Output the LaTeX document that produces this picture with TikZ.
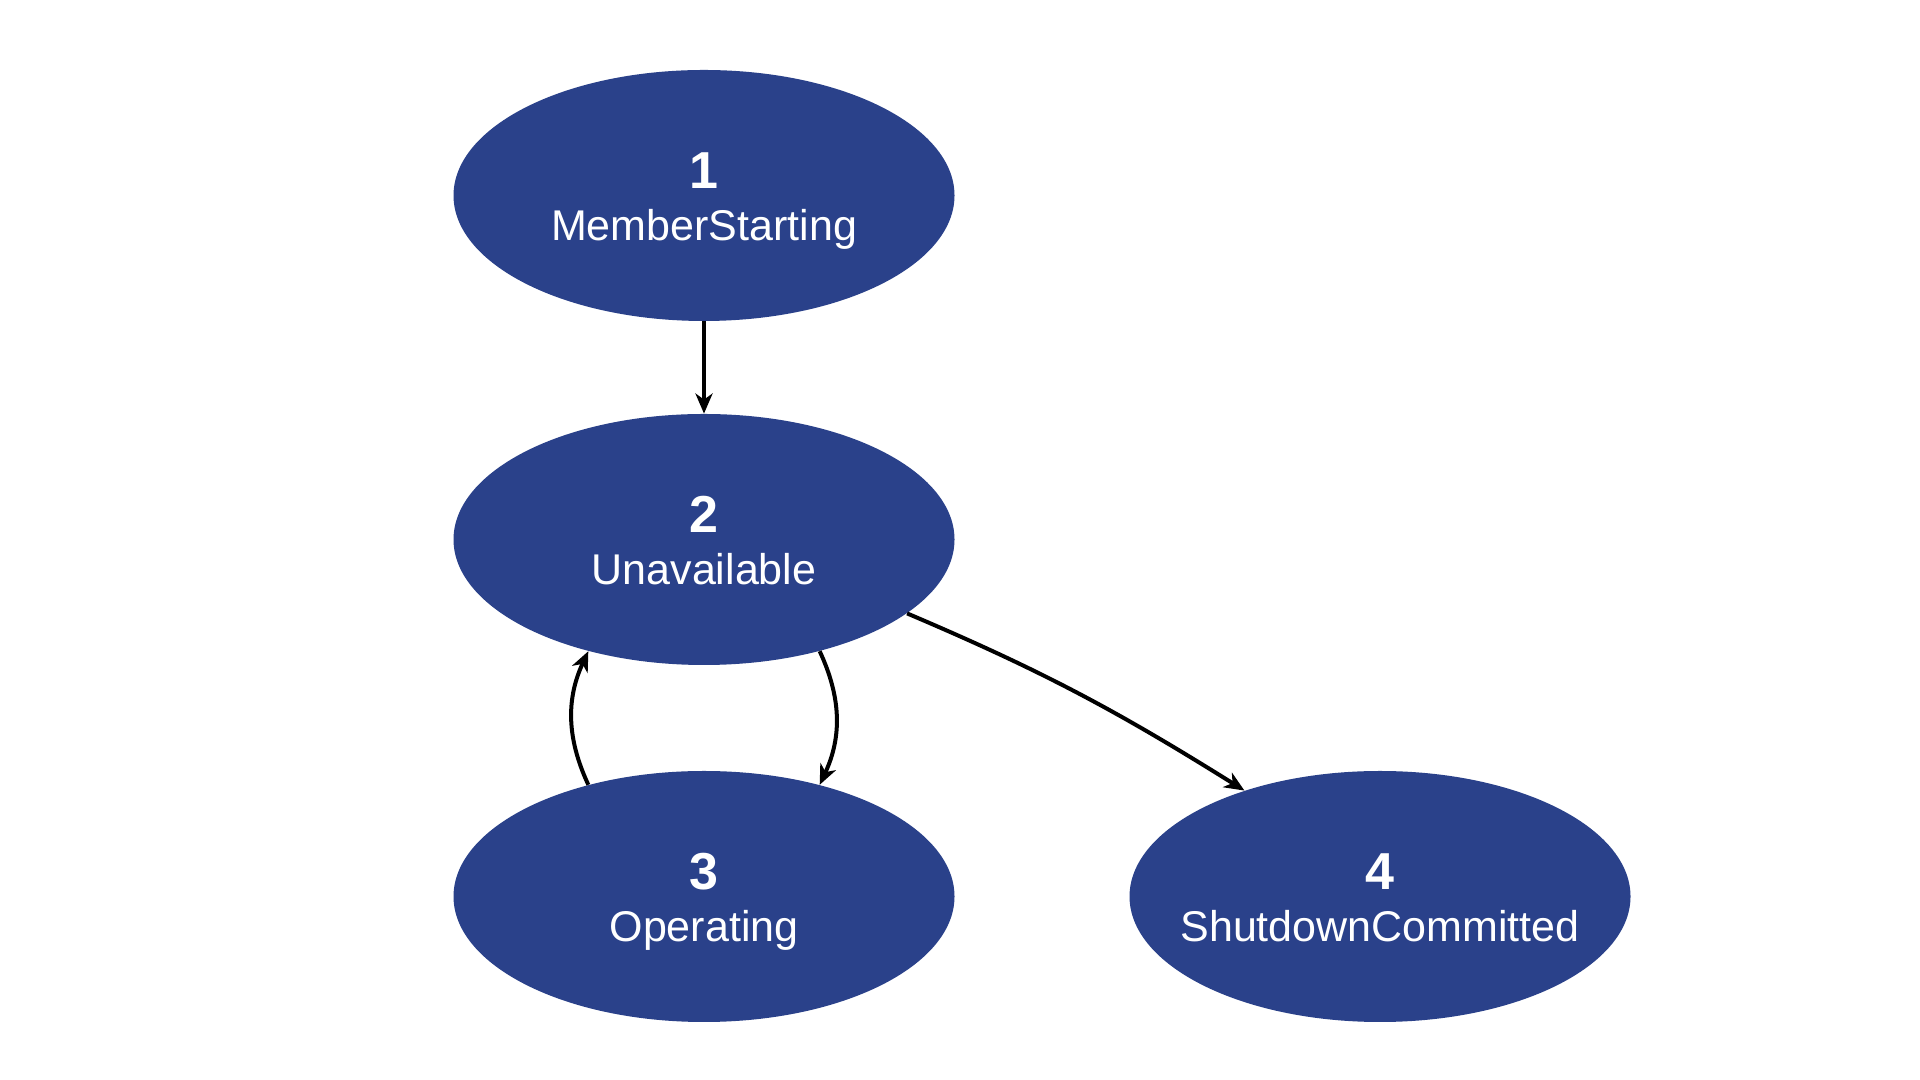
\documentclass[tikz,border=0pt]{standalone}
\usepackage{fontspec}
\setmainfont{Liberation Sans}
\usetikzlibrary{shapes.geometric,arrows.meta}
\definecolor{stateblue}{HTML}{2A418A}
\tikzset{
  state/.style={ellipse, fill=stateblue, draw=none, minimum width=250.5pt, minimum height=125.5pt, inner sep=0pt},
  numtxt/.style={text=white, anchor=base, inner sep=0pt, font=\fontsize{26}{26}\selectfont\bfseries},
  lbltxt/.style={text=white, anchor=base, inner sep=0pt, font=\fontsize{21.5}{24}\selectfont},
  conn/.style={draw=black, line width=2pt, -{Stealth[length=10pt,width=8.5pt,inset=3pt]}}
}
\begin{document}
\begin{tikzpicture}[x=0.5pt,y=0.5pt]
\useasboundingbox (0,0) rectangle (1920,1080);
\fill[white] (0,0) rectangle (1920,1080);
\node[state] (n1) at (704,884.5) {};
\node[state] (n2) at (704,540.5) {};
\node[state] (n3) at (704,183.5) {};
\node[state] (n4) at (1380,183.5) {};
\node[numtxt] (n1a) at ([yshift=3.5pt]n1.center) {1};
\node[lbltxt] (n1b) at ([yshift=-22.75pt]n1.center) {MemberStarting};
\node[numtxt] (n2a) at ([yshift=3.5pt]n2.center) {2};
\node[lbltxt] (n2b) at ([yshift=-22.75pt]n2.center) {Unavailable};
\node[numtxt] (n3a) at ([yshift=3.5pt]n3.center) {3};
\node[lbltxt] (n3b) at ([yshift=-22.75pt]n3.center) {Operating};
\node[numtxt] (n4a) at ([yshift=3.5pt]n4.center) {4};
\node[lbltxt] (n4b) at ([yshift=-22.75pt]n4.center) {ShutdownCommitted};
\draw[conn] (n1) -- (n2);
\draw[conn] (n2.-44) to[out=-65,in=65] (n3.44);
\draw[conn] (n3.136) to[out=115,in=-115] (n2.-136);
\draw[conn] (n2.-20) to[out=-23,in=148] (n4.142);
\end{tikzpicture}
\end{document}
